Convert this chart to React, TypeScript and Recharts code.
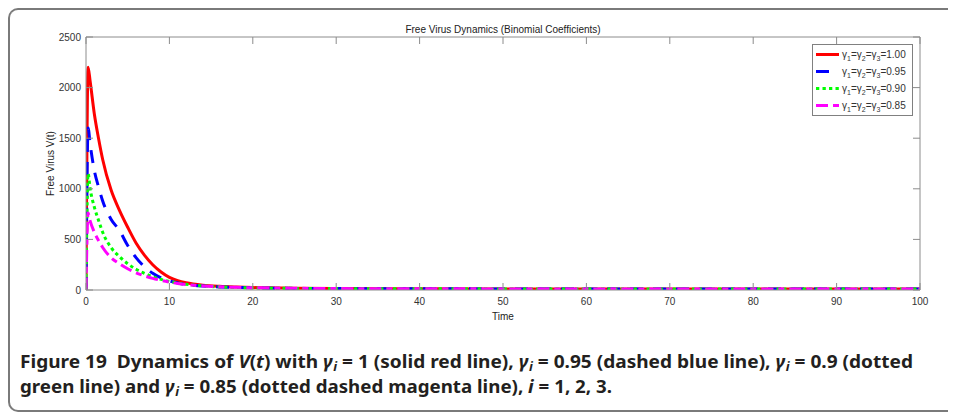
import React from 'react';
import { LineChart, Line, XAxis, YAxis, Label } from 'recharts';

// ---- data ----
const timePoints = [0, 0.25, 0.5, 1, 1.5, 2, 3, 4, 5, 6, 7, 8, 9, 10, 11, 12, 14, 16, 18, 20, 25, 30, 40, 50, 60, 70, 80, 90, 100];
const virusGamma100 = [0, 2200, 2060, 1740, 1500, 1290, 990, 790, 620, 465, 345, 250, 178, 125, 93, 72, 48, 36, 29, 24, 17, 14, 12, 11, 11, 11, 11, 11, 11];
const virusGamma095 = [0, 1600, 1440, 1180, 1020, 880, 700, 590, 440, 320, 230, 165, 120, 90, 70, 56, 39, 30, 25, 21, 16, 14, 12, 11, 11, 11, 11, 11, 11];
const virusGamma090 = [0, 1150, 1000, 820, 690, 570, 420, 330, 260, 205, 165, 130, 105, 85, 68, 56, 40, 31, 25, 21, 16, 14, 12, 11, 11, 11, 11, 11, 11];
const virusGamma085 = [0, 760, 680, 570, 490, 420, 320, 260, 210, 170, 140, 115, 95, 78, 64, 54, 40, 32, 26, 22, 17, 14, 12, 11, 11, 11, 11, 11, 11];

const xTicks = [0, 10, 20, 30, 40, 50, 60, 70, 80, 90, 100];
const yTicks = [0, 500, 1000, 1500, 2000, 2500];
const gammaLabels = ['1.00', '0.95', '0.90', '0.85'];
const seriesKeys = ['g100', 'g095', 'g090', 'g085'];
const seriesColors = ['#ff0000', '#0000ff', '#00ff00', '#ff00ff'];
const seriesDash = ['', '13 10', '3.3 3.2', '12 5 6 5'];

const chartTitle = 'Free Virus Dynamics (Binomial Coefficients)';
const xTitle = 'Time';
const yTitle = 'Free Virus V(t)';

const data = timePoints.map((t, i) => ({
  t,
  g100: virusGamma100[i],
  g095: virusGamma095[i],
  g090: virusGamma090[i],
  g085: virusGamma085[i],
}));

const AXIS = '#8c8c8c';
const TXT = '#333333';
const FONT = '"Liberation Sans", Arial, sans-serif';
const tickStyle = { fill: TXT, fontSize: 10, fontFamily: FONT };

const TitleLabel = (props: any) => {
  const vb = props.viewBox || { x: 78, y: 24, width: 834, height: 5 };
  return (
    <text x={vb.x + vb.width / 2} y={vb.y + 1} textAnchor="middle" fontSize={10} fontFamily={FONT} fill="#222">
      {chartTitle}
    </text>
  );
};

const TimeLabel = (props: any) => {
  const vb = props.viewBox || { x: 78, y: 282, width: 834, height: 30 };
  return (
    <text x={vb.x + vb.width / 2} y={vb.y + 30} textAnchor="middle" fontSize={10} fontFamily={FONT} fill="#222">
      {xTitle}
    </text>
  );
};

const YLabel = (props: any) => {
  const vb = props.viewBox || { x: 28, y: 29, width: 50, height: 253 };
  const x = vb.x + 17.5;
  const y = vb.y + vb.height / 2;
  return (
    <text x={x} y={y} transform={`rotate(-90, ${x}, ${y})`} textAnchor="middle" fontSize={10} fontFamily={FONT} fill="#222">
      {yTitle}
    </text>
  );
};

const subStyle = { fontSize: 7, verticalAlign: -3, lineHeight: 0 } as const;

const GammaText = ({ value }: { value: string }) => (
  <span style={{ fontFamily: FONT, fontSize: 10, color: TXT, whiteSpace: 'nowrap' }}>
    γ<sub style={subStyle}>1</sub>=γ<sub style={subStyle}>2</sub>=γ<sub style={subStyle}>3</sub>={value}
  </span>
);

const LegendBox = () => (
  <div
    style={{
      position: 'absolute',
      left: 804,
      top: 36,
      width: 101,
      height: 72,
      boxSizing: 'border-box',
      border: '1px solid #808080',
      background: '#fff',
      paddingTop: 1,
    }}
  >
    {seriesKeys.map((k, i) => (
      <div key={k} style={{ display: 'flex', alignItems: 'center', height: 17 }}>
        <svg width={29} height={17} style={{ display: 'block', flex: 'none' }}>
          <line x1={3} y1={8.5} x2={26} y2={8.5} stroke={seriesColors[i]} strokeWidth={3} strokeDasharray={seriesDash[i] || undefined} />
        </svg>
        <GammaText value={gammaLabels[i]} />
      </div>
    ))}
  </div>
);

const Gi = () => (
  <>
    <tspan fontStyle="italic">γ</tspan>
    <tspan fontStyle="italic" fontSize="12" dx="0.5" dy="3">i</tspan>
    <tspan dy="-3"> </tspan>
  </>
);

const CAP_FONT = '"Noto Sans", "Open Sans", sans-serif';

const Caption = () => (
  <svg width={948} height={404} style={{ position: 'absolute', left: 0, top: 0, pointerEvents: 'none' }}>
    <text x={12} y={360} fontFamily={CAP_FONT} fontWeight="bold" fontSize={17.8} fill="#231f20" textLength={893} lengthAdjust="spacingAndGlyphs">
      Figure 19{'\u00a0\u00a0'}Dynamics of <tspan fontStyle="italic">V</tspan>(<tspan fontStyle="italic">t</tspan>) with <Gi />= 1 (solid red line), <Gi />= 0.95 (dashed blue line), <Gi />= 0.9 (dotted
    </text>
    <text x={12} y={384.5} fontFamily={CAP_FONT} fontWeight="bold" fontSize={17.8} fill="#231f20" textLength={592} lengthAdjust="spacingAndGlyphs">
      green line) and <Gi />= 0.85 (dotted dashed magenta line), <tspan fontStyle="italic">i</tspan> = 1, 2, 3.
    </text>
  </svg>
);

export default function App() {
  return (
    <div style={{ position: 'relative', width: 948, height: 404 }}>
      <div
        style={{
          position: 'absolute',
          left: 0,
          top: 0,
          width: 948,
          height: 404,
          boxSizing: 'border-box',
          border: '2px solid #7a7a7a',
          borderRight: 'none',
          borderRadius: '10px 0 0 10px',
        }}
      />
      <div style={{ position: 'absolute', left: 0, top: 0 }}>
        <LineChart width={948} height={330} data={data} margin={{ top: 24, right: 26, bottom: 18, left: 28 }}>
          <XAxis
            xAxisId="b"
            dataKey="t"
            type="number"
            domain={[0, 100]}
            ticks={xTicks}
            interval={0}
            tickSize={-7}
            tickMargin={15}
            height={30}
            stroke={AXIS}
            tick={tickStyle}
            allowDataOverflow
          >
            <Label content={TimeLabel} />
          </XAxis>
          <XAxis
            xAxisId="t"
            orientation="top"
            dataKey="t"
            type="number"
            domain={[0, 100]}
            ticks={xTicks}
            interval={0}
            tickSize={-7}
            height={5}
            stroke={AXIS}
            tick={tickStyle}
            tickFormatter={() => ''}
            allowDataOverflow
          >
            <Label content={TitleLabel} />
          </XAxis>
          <YAxis
            yAxisId="l"
            type="number"
            domain={[0, 2500]}
            ticks={yTicks}
            interval={0}
            tickSize={-7}
            tickMargin={12}
            width={50}
            stroke={AXIS}
            tick={tickStyle}
            allowDataOverflow
          >
            <Label content={YLabel} />
          </YAxis>
          <YAxis
            yAxisId="r"
            orientation="right"
            type="number"
            domain={[0, 2500]}
            ticks={yTicks}
            interval={0}
            tickSize={-7}
            width={10}
            stroke={AXIS}
            tick={tickStyle}
            tickFormatter={() => ''}
            allowDataOverflow
          />
          {seriesKeys.map((k, i) => (
            <Line
              key={k}
              xAxisId="b"
              yAxisId="l"
              type="monotone"
              dataKey={k}
              stroke={seriesColors[i]}
              strokeWidth={3}
              strokeDasharray={seriesDash[i] || undefined}
              dot={false}
              activeDot={false}
              isAnimationActive={false}
            />
          ))}
        </LineChart>
      </div>
      <LegendBox />
      <Caption />
    </div>
  );
}
